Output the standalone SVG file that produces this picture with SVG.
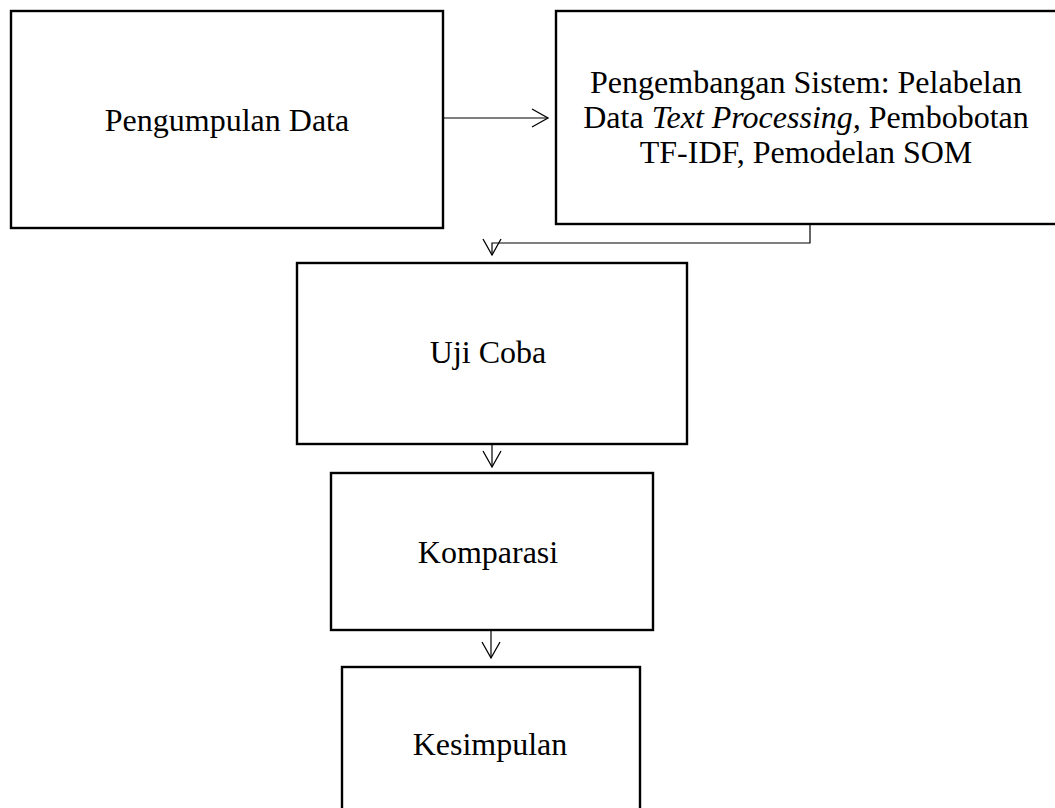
<svg xmlns="http://www.w3.org/2000/svg" width="1055" height="808" viewBox="0 0 1055 808">
<style>
.box{fill:#fff;stroke:#000;stroke-width:2.4}
.t{font-family:"Liberation Serif","Times New Roman",serif;font-size:32px;fill:#000;text-anchor:middle}
.c{fill:none;stroke:#000;stroke-width:1.2}
</style>
<defs>
<marker id="arr" markerUnits="userSpaceOnUse" viewBox="-18 -10 20 20" markerWidth="20" markerHeight="20" refX="0" refY="0" orient="auto">
<path d="M-16,-9 L0,0 L-16,9" fill="none" stroke="#000" stroke-width="1.3"/>
</marker>
</defs>
<rect width="1055" height="808" fill="#fff"/>
<g id="n1"><rect class="box" x="11" y="11" width="432" height="217"/><text class="t" x="227" y="131">Pengumpulan Data</text></g>
<g id="n2"><rect class="box" x="556" y="11" width="504" height="213"/>
<text class="t" x="806" y="93">Pengembangan Sistem: Pelabelan</text>
<text class="t" x="806" y="128">Data <tspan font-style="italic">Text Processing,</tspan> Pembobotan</text>
<text class="t" x="806" y="163">TF-IDF, Pemodelan SOM</text></g>
<g id="n3"><rect class="box" x="297" y="263" width="390" height="181"/><text class="t" x="488" y="363">Uji Coba</text></g>
<g id="n4"><rect class="box" x="331" y="473" width="322" height="157"/><text class="t" x="488" y="563">Komparasi</text></g>
<g id="n5"><rect class="box" x="342" y="667" width="298" height="160"/><text class="t" x="490" y="755">Kesimpulan</text></g>
<g id="connectors">
<path class="c" d="M443,118 H548" marker-end="url(#arr)"/>
<path class="c" d="M810,224 V243 H492 V255" marker-end="url(#arr)"/>
<path class="c" d="M492,445 V467" marker-end="url(#arr)"/>
<path class="c" d="M491,631 V658" marker-end="url(#arr)"/>
</g>
</svg>
